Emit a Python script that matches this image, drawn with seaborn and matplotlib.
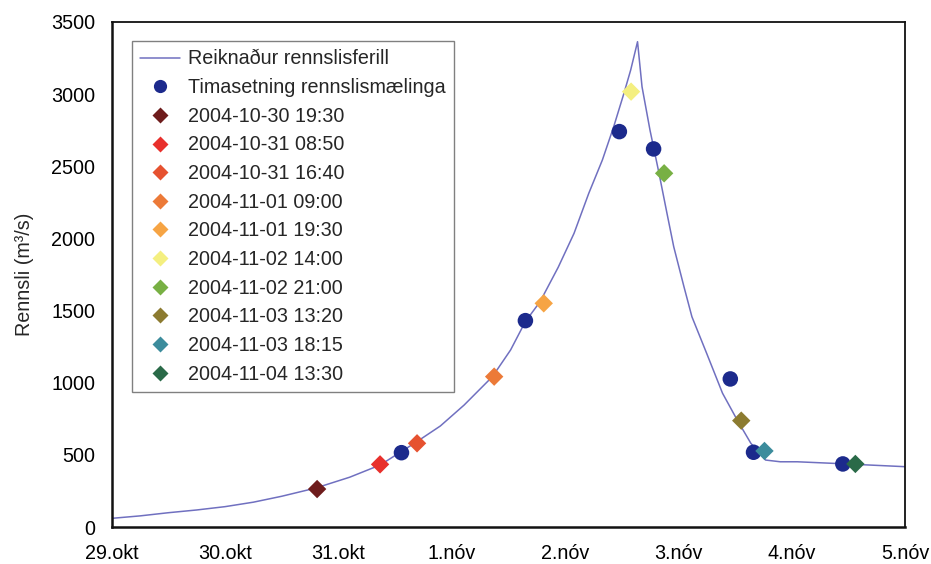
import matplotlib
matplotlib.use("Agg")
import matplotlib.pyplot as plt
import seaborn as sns
import pandas as pd
from matplotlib.lines import Line2D

sns.set_theme(style="white")
plt.rcParams["font.family"] = ["Liberation Sans", "DejaVu Sans"]

# ---------------- data ----------------
curve_times = [
    "2004-10-29 00:00", "2004-10-29 06:00", "2004-10-29 12:00", "2004-10-29 18:00",
    "2004-10-30 00:00", "2004-10-30 06:00", "2004-10-30 12:00", "2004-10-30 19:12",
    "2004-10-31 02:24", "2004-10-31 08:53", "2004-10-31 16:34", "2004-10-31 21:36",
    "2004-11-01 02:38", "2004-11-01 08:38", "2004-11-01 12:29", "2004-11-01 15:36",
    "2004-11-01 18:43", "2004-11-01 22:34", "2004-11-02 01:55", "2004-11-02 05:02",
    "2004-11-02 07:55", "2004-11-02 10:19", "2004-11-02 12:29", "2004-11-02 13:55",
    "2004-11-02 15:22", "2004-11-02 16:19", "2004-11-02 18:00", "2004-11-02 19:55",
    "2004-11-02 21:36", "2004-11-02 23:02", "2004-11-03 01:12", "2004-11-03 02:53",
    "2004-11-03 06:00", "2004-11-03 09:22", "2004-11-03 12:29", "2004-11-03 15:22",
    "2004-11-03 18:29", "2004-11-03 21:36", "2004-11-04 01:12", "2004-11-04 08:53",
    "2004-11-05 00:00",
]
curve_flow = [
    60, 77, 99, 118,
    141, 172, 213, 270,
    345, 430, 590, 700,
    845, 1042, 1227, 1423,
    1561, 1800, 2035, 2312,
    2543, 2774, 3005, 3167,
    3363, 3051, 2751, 2451,
    2174, 1942, 1665, 1457,
    1204, 927, 741, 580,
    464, 452, 452, 441,
    418,
]

meas_times = [
    "2004-10-31 13:22", "2004-11-01 15:37", "2004-11-02 11:31", "2004-11-02 18:46",
    "2004-11-03 11:01", "2004-11-03 15:56", "2004-11-04 10:51",
]
meas_flow = [515, 1430, 2740, 2620, 1026, 518, 437]

sample_labels = [
    "2004-10-30 19:30", "2004-10-31 08:50", "2004-10-31 16:40", "2004-11-01 09:00",
    "2004-11-01 19:30", "2004-11-02 14:00", "2004-11-02 21:00", "2004-11-03 13:20",
    "2004-11-03 18:15", "2004-11-04 13:30",
]
sample_flow = [263, 434, 580, 1042, 1550, 3017, 2451, 737, 527, 437]
sample_colors = [
    "#6e1c1c", "#e8302c", "#e65230", "#ec7a38", "#f6a444",
    "#f4ef80", "#78b044", "#8c7b30", "#3c8c9c", "#2a6a48",
]

x_tick_dates = ["2004-10-29", "2004-10-30", "2004-10-31", "2004-11-01",
                "2004-11-02", "2004-11-03", "2004-11-04", "2004-11-05"]
x_tick_labels = ["29.okt", "30.okt", "31.okt", "1.nóv", "2.nóv", "3.nóv", "4.nóv", "5.nóv"]
y_ticks = [0, 500, 1000, 1500, 2000, 2500, 3000, 3500]

line_label = "Reiknaður rennslisferill"
meas_label = "Timasetning rennslismælinga"
y_label = "Rennsli (m³/s)"

line_color = "#7070c0"
meas_color = "#1c2a8c"
FS = 14.2

# ---------------- frames ----------------
curve = pd.DataFrame({"time": pd.to_datetime(curve_times), "flow": curve_flow})
meas = pd.DataFrame({"time": pd.to_datetime(meas_times), "flow": meas_flow})
samples = pd.DataFrame({"time": pd.to_datetime(sample_labels), "flow": sample_flow,
                        "label": sample_labels})
palette = dict(zip(sample_labels, sample_colors))

# ---------------- plot ----------------
fig = plt.figure(figsize=(9.31, 5.64), dpi=100)
ax = fig.add_axes([0.12, 0.0656, 0.852, 0.8955])

sns.lineplot(data=curve, x="time", y="flow", color=line_color, linewidth=1.1,
             ax=ax, zorder=2)
sns.scatterplot(data=meas, x="time", y="flow", color=meas_color, marker="o",
                s=125, edgecolor="none", ax=ax, zorder=3, legend=False)
sns.scatterplot(data=samples, x="time", y="flow", hue="label", palette=palette,
                marker="D", s=88, edgecolor="none", ax=ax, zorder=4, legend=False)

ax.set_xlim(pd.Timestamp(x_tick_dates[0]), pd.Timestamp(x_tick_dates[-1]))
ax.set_ylim(y_ticks[0], y_ticks[-1])
ax.set_xticks(pd.to_datetime(x_tick_dates))
ax.set_xticklabels(x_tick_labels)
ax.set_yticks(y_ticks)
ax.set_xlabel("")
ax.set_ylabel("")
ax.grid(False)

ax.tick_params(axis="both", which="major", labelsize=FS, colors="#000000",
               direction="out", length=4, width=1)
ax.tick_params(axis="x", pad=8)
ax.tick_params(axis="y", pad=8)
for s in ax.spines.values():
    s.set_color("#111111")
    s.set_linewidth(1.3)
ax.spines["left"].set_linewidth(1.8)
ax.spines["bottom"].set_linewidth(1.8)

fig.text(24 / 931, 1 - 274 / 564, y_label, rotation=90, ha="center", va="center",
         fontsize=FS)

handles = [Line2D([], [], color=line_color, linewidth=1.1),
           Line2D([], [], linestyle="none", marker="o", markersize=9.5,
                  markerfacecolor=meas_color, markeredgecolor="none")]
for c in sample_colors:
    handles.append(Line2D([], [], linestyle="none", marker="D", markersize=8,
                          markerfacecolor=c, markeredgecolor="none"))
labels = [line_label, meas_label] + sample_labels

leg = ax.legend(handles, labels, loc="upper left", bbox_to_anchor=(0.0256, 0.962),
                borderaxespad=0, fontsize=FS, frameon=True, fancybox=False,
                framealpha=1, edgecolor="#808080", labelspacing=0.49,
                handlelength=2.0, handletextpad=0.4, borderpad=0.42)
leg.get_frame().set_linewidth(1.0)

fig.savefig("out.png", dpi=100)
